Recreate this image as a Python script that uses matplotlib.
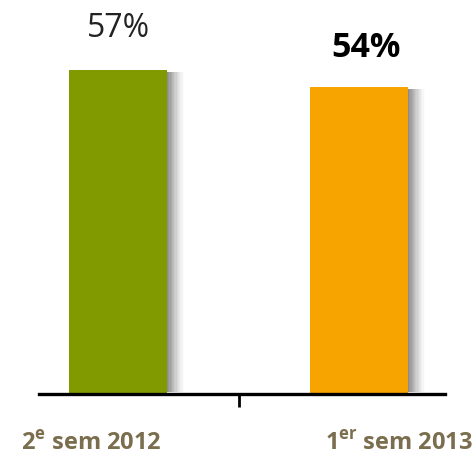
import matplotlib.pyplot as plt
import numpy as np

# données
periodes = ['2$^{\\mathregular{e}}$ sem 2012', '1$^{\\mathregular{er}}$ sem 2013']
valeurs = [57, 54]
etiquettes = ['57%', '54%']
couleurs = ['#809A00', '#F7A400']

fig = plt.figure(figsize=(4.77, 4.55), dpi=100)
ax = fig.add_axes([39/477, 61/455, 406/477, 394/455])

x = np.arange(len(valeurs))
w = 0.407
ax.bar(x, valeurs, width=w, color=couleurs, zorder=3)

# ombre à droite des barres
pas = 0.005
n = 14
for i, v in enumerate(valeurs):
    for k in range(n):
        ax.bar(x[i] + w/2 + pas*k + pas/2, v - 0.6, width=pas, bottom=0.3,
               color='black', alpha=0.45*(1 - k/n)**1.3, linewidth=0, zorder=2)

ax.text(x[0], valeurs[0] + 7.2, etiquettes[0], ha='center', va='center',
        fontsize=23, family='Open Sans', color='#222222')
ax.text(x[1] + 0.03, valeurs[1] + 6.9, etiquettes[1], ha='center', va='center',
        fontsize=24.5, family='Open Sans', fontweight='bold', color='black')

ax.set_xlim(-0.328, 1.357)
ax.set_ylim(0, 69.3)
for s in ['top', 'right', 'left']:
    ax.spines[s].set_visible(False)
ax.spines['bottom'].set_linewidth(2.4)
ax.spines['bottom'].set_zorder(4)
ax.set_yticks([])
ax.set_xticks([0.5])
ax.set_xticklabels([''])
ax.tick_params(axis='x', length=9, width=2, direction='out', color='black')

# libellés des périodes
pos_lib = [-0.11, 1.165]
for p, lib in zip(pos_lib, periodes):
    ax.text(p, -8.8, lib, ha='center', va='center', fontsize=17,
            family='Open Sans', fontweight='bold', color='#7B6E4E')

fig.savefig('out.png', dpi=100)
